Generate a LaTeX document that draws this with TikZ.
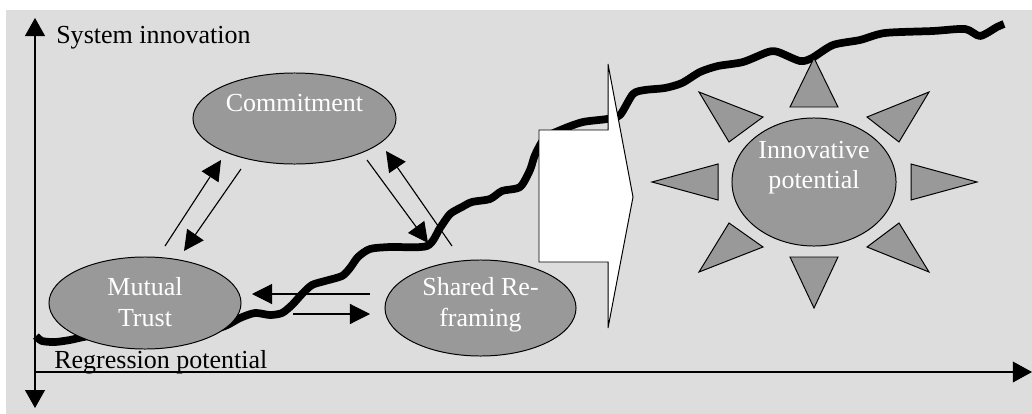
\documentclass[tikz,border=0pt]{standalone}
\usepackage{fontspec}
\setmainfont{Liberation Serif}
\usetikzlibrary{arrows.meta,shapes.geometric}

\definecolor{backgray}{RGB}{221,221,221}
\definecolor{bubblegray}{RGB}{153,153,153}

\tikzset{
  bubble/.style={ellipse,draw=black,line width=0.7pt,fill=bubblegray,inner sep=0pt},
  bubbletext/.style={text=white,align=center,inner sep=0pt,font=\fontsize{18.5}{21.5}\selectfont},
  axislabel/.style={inner sep=0pt,font=\fontsize{18.5}{21.5}\selectfont},
  ray/.style={draw=black,line width=0.7pt,fill=bubblegray},
  axisline/.style={line width=0.8pt},
  flow/.style={line width=0.8pt,-{Triangle[length=0.5cm,width=0.5cm]}},
}

\begin{document}
\begin{tikzpicture}[x=0.025cm,y=-0.025cm]
    \useasboundingbox (0,0) rectangle (1032,414);
    \fill[backgray] (6,10) rectangle (1032,414);

    % axes
    \coordinate (origin) at (35,372);
    \coordinate (ytop) at (35,18);
    \coordinate (ybot) at (35,408);
    \coordinate (xend) at (1032,372);
    \draw[axisline,{Triangle[length=0.45cm,width=0.5cm]}-{Triangle[length=0.45cm,width=0.5cm]}] (ybot) -- (ytop);
    \draw[axisline,-{Triangle[length=0.48cm,width=0.52cm]}] (origin) -- (xend);
    \node[axislabel,anchor=base west] (sysinno) at (56,43) {System innovation};
    \node[axislabel,anchor=base west] (regress) at (54,368) {Regression potential};

    % the growth line
    \draw[line width=5.5pt,line join=round] plot[smooth,tension=0.45] coordinates {
      (36,336) (42,341) (55,342) (70,340) (90,336) (120,336) (160,336) (200,333)
      (225,326) (240,318) (255,313) (270,315) (282,313) (292,305) (302,294)
      (312,285) (325,281) (342,276) (350,268) (358,257) (370,249) (390,247)
      (427,246) (440,228) (450,214) (462,207) (472,202) (490,199) (502,191)
      (520,187) (530,170) (535,155) (545,138) (563,129) (583,122) (607,119)
      (620,115) (633,94) (645,90) (665,88) (682,83) (700,72) (718,66) (743,62)
      (768,52) (778,52) (800,61) (812,58) (833,45) (860,40) (885,33) (933,31)
      (965,29) (980,36) (997,27) (1004,24)};

    % the three ellipses
    \node[bubble,minimum width=5.075cm,minimum height=2.275cm] (commit) at (294.5,118.5) {};
    \node[bubble,minimum width=4.8cm,minimum height=2.3cm] (trust) at (145,303) {};
    \node[bubble,minimum width=4.775cm,minimum height=2.4cm] (reframe) at (480.5,308) {};
    \node[bubbletext] (committext) at ([yshift=0.39cm]commit.center) {Commitment};
    \node[bubbletext] (trusttext) at ([yshift=0.02cm]trust.center) {Mutual\\Trust};
    \node[bubbletext] (reframetext) at ([yshift=0.08cm]reframe.center) {Shared Re-\\framing};

    \coordinate (mc1) at (165,246);
    \coordinate (mc2) at (221,160);
    \coordinate (cm1) at (241,169);
    \coordinate (cm2) at (184,251);
    \coordinate (cs1) at (367,160);
    \coordinate (cs2) at (428,243);
    \coordinate (sc1) at (452,246);
    \coordinate (sc2) at (386,151);
    \coordinate (sm1) at (370,294);
    \coordinate (sm2) at (252,294);
    \coordinate (ms1) at (293,314);
    \coordinate (ms2) at (370,314);
    \draw[flow] (mc1) -- (mc2);
    \draw[flow] (cm1) -- (cm2);
    \draw[flow] (cs1) -- (cs2);
    \draw[flow] (sc1) -- (sc2);
    \draw[flow] (sm1) -- (sm2);
    \draw[flow] (ms1) -- (ms2);

    % big white arrow
    \draw[fill=white,line width=0.7pt] (539,130) -- (608,130) -- (608,64) -- (633,197)
      -- (608,328) -- (608,262) -- (539,262) -- cycle;

    % the sun
    \node[bubble,minimum width=4.1cm,minimum height=3.2cm] (innov) at (814,182) {};
    \node[bubbletext] (innovtext) at ([yshift=0.35cm]innov.center) {Innovative\\potential};
    \draw[ray] (790,107) -- (814,58) -- (838,107) -- cycle;
    \draw[ray] (790,257) -- (814,308) -- (838,257) -- cycle;
    \draw[ray] (718,164) -- (652,182) -- (718,200) -- cycle;
    \draw[ray] (911,164) -- (977,182) -- (911,200) -- cycle;
    \draw[ray] (699,92) -- (763,117) -- (729,142) -- cycle;
    \draw[ray] (929,92) -- (867,117) -- (899,142) -- cycle;
    \draw[ray] (699,272) -- (763,247) -- (729,223) -- cycle;
    \draw[ray] (929,272) -- (867,247) -- (899,223) -- cycle;
\end{tikzpicture}
\end{document}
